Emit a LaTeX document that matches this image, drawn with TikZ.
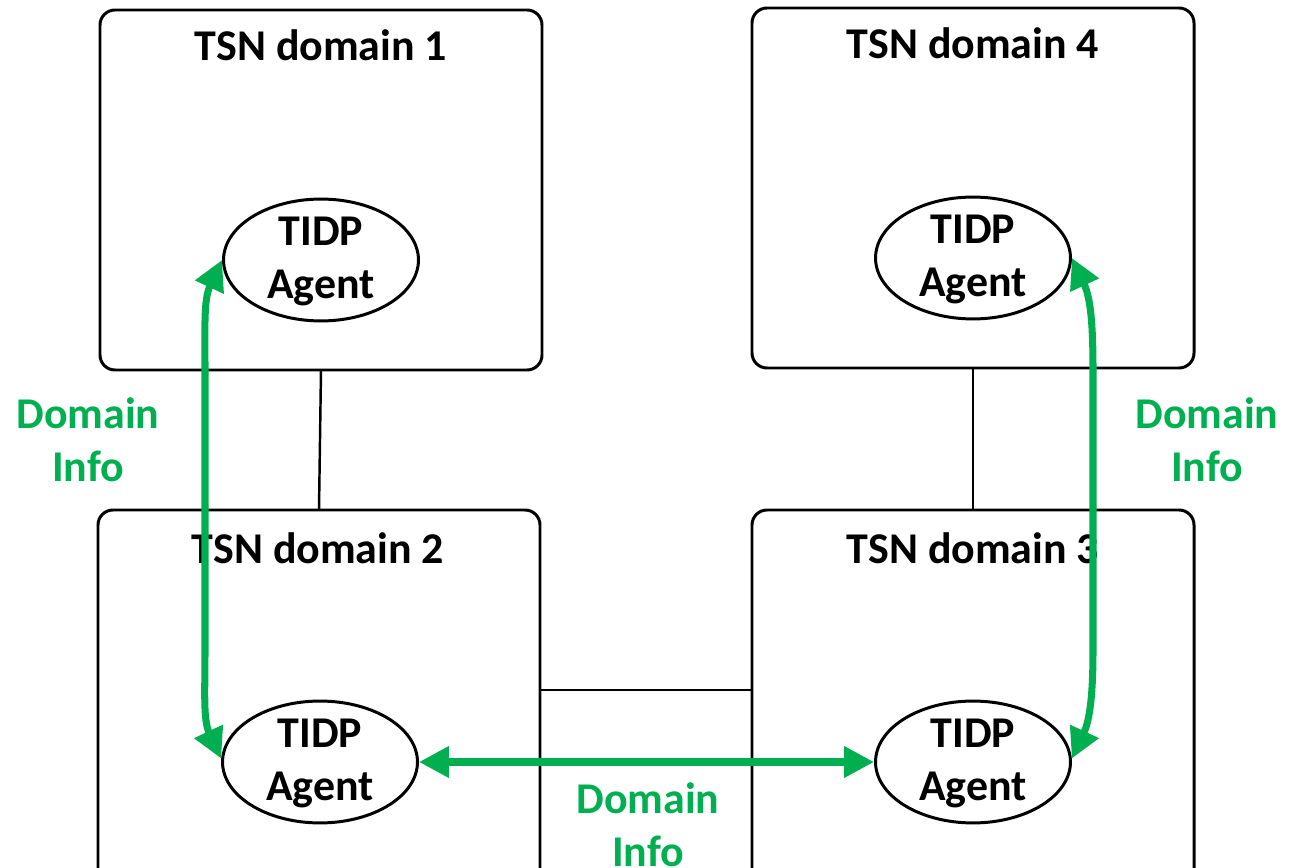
\documentclass[tikz,border=0pt]{standalone}
\usepackage{fontspec}
\setmainfont{Carlito}
\usetikzlibrary{shapes.geometric}
\usetikzlibrary{arrows.meta}
\definecolor{infogreen}{RGB}{0,176,80}
\begin{document}
\begin{tikzpicture}[x=0.02cm, y=-0.02cm,
  font=\fontsize{25}{30}\selectfont\bfseries,
  tsnbox/.style={draw, line width=1.7pt, rounded corners=0.3cm},
  link/.style={line width=1.4pt},
  agent/.style={draw, ellipse, line width=1.7pt, minimum width=3.9cm,
    minimum height=2.2cm, inner sep=0pt, align=center, text depth=0.1cm},
  info/.style={infogreen, align=center},
  infoarrow/.style={infogreen, line width=4pt,
    {Triangle[length=0.6cm, width=0.6cm]}-{Triangle[length=0.6cm, width=0.6cm]}}]
  \useasboundingbox (0,0) rectangle (1303,868);
  \clip (0,0) rectangle (1303,868);
  % domains
  \draw[tsnbox] (100,10) rectangle (542,370);
  \draw[tsnbox] (752,8) rectangle (1194,368);
  \draw[tsnbox] (98,510) rectangle (540,920);
  \draw[tsnbox] (752,510) rectangle (1194,920);
  \node (t1) at (321,45) {TSN domain 1};
  \node (t4) at (973,43) {TSN domain 4};
  \node (t2) at (318,548) {TSN domain 2};
  \node (t3) at (973,548) {TSN domain 3};
  % links
  \coordinate (l1) at (321,370);
  \coordinate (l2) at (319,510);
  \coordinate (l4) at (973,368);
  \coordinate (l3) at (973,510);
  \coordinate (l23a) at (540,690);
  \coordinate (l23b) at (752,690);
  \draw[link] (l1) -- (l2);
  \draw[link] (l4) -- (l3);
  \draw[link] (l23a) -- (l23b);
  % agents
  \node[agent] (a1) at (321,260) {TIDP\\Agent};
  \node[agent] (a4) at (973,258) {TIDP\\Agent};
  \node[agent] (a2) at (320,762) {TIDP\\Agent};
  \node[agent] (a3) at (973,762) {TIDP\\Agent};
  % domain info
  \draw[infoarrow] (a1.west) to[out=245, in=90] (205,370)
    -- (205,650) to[out=-90, in=115] (a2.178);
  \draw[infoarrow] (a4.east) to[out=-65, in=90] (1093,370)
    -- (1093,650) to[out=-90, in=65] (a3.2);
  \draw[infoarrow] (a2.east) -- (a3.west);
  \node[info] (i1) at (88,440) {Domain\\Info};
  \node[info] (i4) at (1207,440) {Domain\\Info};
  \node[info] (i23) at (648,825) {Domain\\Info};
\end{tikzpicture}
\end{document}
